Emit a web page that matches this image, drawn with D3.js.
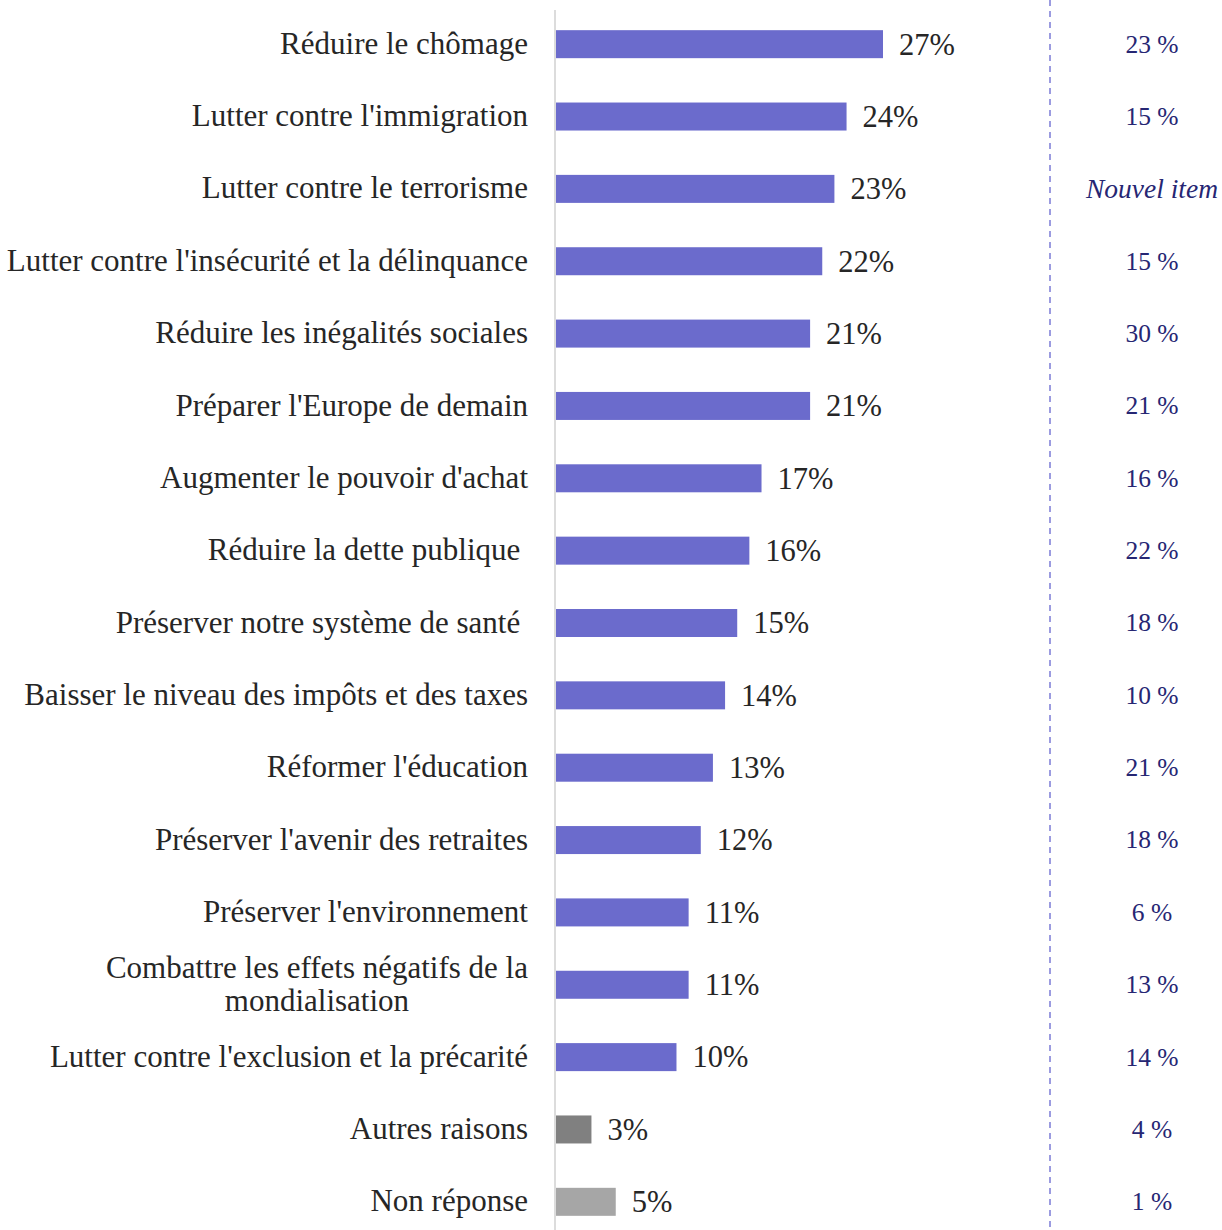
<!DOCTYPE html>
<html>
<head>
<meta charset="utf-8">
<script src="https://cdn.jsdelivr.net/npm/d3@7"></script>
<style>
  body { margin: 0; background: #fff; }
  text { font-family: "Liberation Serif", "DejaVu Serif", serif; }
  .label { white-space: pre; }
</style>
</head>
<body>
<script>
var categories = [
  "Réduire le chômage",
  "Lutter contre l'immigration",
  "Lutter contre le terrorisme",
  "Lutter contre l'insécurité et la délinquance",
  "Réduire les inégalités sociales",
  "Préparer l'Europe de demain",
  "Augmenter le pouvoir d'achat",
  "Réduire la dette publique ",
  "Préserver notre système de santé ",
  "Baisser le niveau des impôts et des taxes",
  "Réformer l'éducation",
  "Préserver l'avenir des retraites",
  "Préserver l'environnement",
  "Combattre les effets négatifs de la|mondialisation",
  "Lutter contre l'exclusion et la précarité",
  "Autres raisons",
  "Non réponse"
];
var values = [27, 24, 23, 22, 21, 21, 17, 16, 15, 14, 13, 12, 11, 11, 10, 3, 5];
var previous = ["23 %", "15 %", "Nouvel item", "15 %", "30 %", "21 %", "16 %", "22 %", "18 %",
  "10 %", "21 %", "18 %", "6 %", "13 %", "14 %", "4 %", "1 %"];
var barColors = { "Autres raisons": "#808080", "Non réponse": "#a6a6a6" };

var width = 1222, height = 1230;
var x0 = 555;
var labelRight = 528;

var svg = d3.select('body').append('svg')
  .attr('width', width)
  .attr('height', height);

var x = d3.scaleLinear().domain([0, 27]).range([x0, 883]);
var y = d3.scaleBand().domain(categories).range([8, 1238]).paddingInner(0.613).paddingOuter(0.3065);

// axis line
svg.append('line')
  .attr('x1', x0).attr('x2', x0)
  .attr('y1', 10).attr('y2', height)
  .attr('stroke', '#d0d0d0').attr('stroke-width', 1.5);

// dashed separator
svg.append('line')
  .attr('x1', 1050).attr('x2', 1050)
  .attr('y1', 0).attr('y2', height)
  .attr('stroke', '#7b7bd6').attr('stroke-width', 1.5)
  .attr('stroke-dasharray', '6,5');

svg.selectAll('.bar')
  .data(categories)
  .enter().append('rect')
    .attr('class', 'bar')
    .attr('x', x0 + 1)
    .attr('y', function(d) { return y(d); })
    .attr('width', function(d, i) { return x(values[i]) - x0 - 1; })
    .attr('height', y.bandwidth())
    .attr('fill', function(d) { return barColors[d] || '#6b6bcc'; });

svg.selectAll('.val')
  .data(categories)
  .enter().append('text')
    .attr('class', 'val')
    .attr('x', function(d, i) { return x(values[i]) + 16; })
    .attr('y', function(d) { return y(d) + y.bandwidth() / 2; })
    .attr('dy', '0.34em')
    .attr('font-size', 30.5)
    .attr('fill', '#262626')
    .text(function(d, i) { return values[i] + '%'; });

// category labels, one two-line label centred under its first line
categories.forEach(function(d) {
  var parts = d.split('|');
  var cy = y(d) + y.bandwidth() / 2;
  var t = svg.append('text')
    .attr('class', 'label')
    .attr('text-anchor', 'end')
    .attr('font-size', 31)
    .attr('fill', '#262626')
    .attr('x', labelRight)
    .attr('y', cy)
    .text(parts[0]);
  if (parts.length === 1) {
    t.attr('dy', '0.31em');
  } else {
    t.attr('dy', '-0.23em');
    var w = t.node().getComputedTextLength();
    svg.append('text')
      .attr('class', 'label')
      .attr('text-anchor', 'middle')
      .attr('font-size', 31)
      .attr('fill', '#262626')
      .attr('x', labelRight - w / 2)
      .attr('y', cy)
      .attr('dy', '0.85em')
      .text(parts[1]);
  }
});

svg.selectAll('.prev')
  .data(categories)
  .enter().append('text')
    .attr('class', 'prev')
    .attr('x', 1152)
    .attr('y', function(d) { return y(d) + y.bandwidth() / 2; })
    .attr('dy', '0.33em')
    .attr('text-anchor', 'middle')
    .attr('font-size', function(d, i) { return previous[i] === 'Nouvel item' ? 27.5 : 25.5; })
    .attr('font-style', function(d, i) { return previous[i] === 'Nouvel item' ? 'italic' : 'normal'; })
    .attr('fill', '#262673')
    .text(function(d, i) { return previous[i]; });
</script>
</body>
</html>
